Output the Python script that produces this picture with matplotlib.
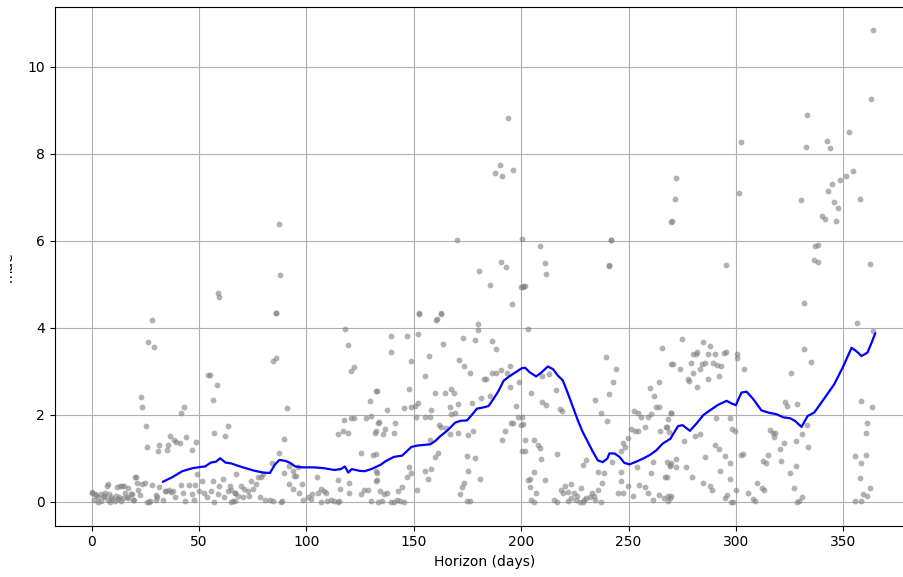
import matplotlib
matplotlib.use('Agg')
import matplotlib.pyplot as plt
from matplotlib.transforms import Bbox, TransformedBbox

# cross-validation points (horizon in days, mae)
pts_early = [
    (28, 4.18), (26.4, 3.68), (28.8, 3.56), (23, 2.40), (23.6, 2.18), (25.2, 1.74), (25.8, 1.26),
    (31.4, 1.30), (30.8, 1.16), (35.5, 1.30), (35, 1.20), (36.6, 1.52), (38.4, 1.42), (39.3, 1.37),
    (41.2, 1.34), (41.8, 2.03), (43.1, 2.18), (44, 1.49), (46.9, 1.20), (48.4, 1.37),
    (54, 2.92), (54.9, 2.92), (58.3, 2.69), (56.3, 2.35), (56.9, 1.59), (62.3, 1.52), (63.5, 1.74),
    (58.8, 4.79), (59.3, 4.70),
    (20, 0.57), (7.7, 0.40), (13, 0.35), (15, 0.35), (16.7, 0.31), (20.9, 0.42), (24.8, 0.42),
    (28, 0.39), (31.4, 0.33), (0, 0.21), (1.3, 0.18), (2.8, 0.10), (4.4, 0.02), (6, 0.21),
    (7.5, 0.04), (9.1, 0.10), (10.7, 0.02), (12.3, 0.06), (13.8, 0.02), (15.4, 0.19), (17, 0.08),
    (18.6, 0.18), (22.5, 0.16), (25.6, 0.0), (27.2, 0.02), (29.9, 0.04), (30.3, 0.10), (34.3, 0.25),
    (35.8, 0.27), (37.7, 0.25), (39, 0.11), (41.4, 0.39), (42.5, 0.21), (43.6, 0.02), (45.3, 0.39),
    (46.5, 0.18), (48.1, 0.38), (49.2, 0.64), (50, 0.25), (51.5, 0.48), (52.4, 0.21), (53.9, 0.10),
    (55.5, 0.25), (56.3, 0.48), (57, 0.0), (58.6, 0.18), (59.4, 0.36), (61, 0.53), (61.8, 0.10),
    (63.4, 0.25), (64.5, 0.36), (65.7, 0.02), (66.5, 0.21), (1, 0.05), (3, 0.0), (5.5, 0.12),
    (8.5, 0.0), (11.5, 0.14), (14.5, 0.08), (19, 0.03), (21.5, 0.28), (33, 0.05), (47.5, 0.05),
    (0.2, 0.23), (1.8, 0.15), (4.1, 0.18), (5.7, 0.10), (7.2, 0.37), (8, 0.18), (9.6, 0.06),
    (11.9, 0.33), (12.7, 0.10), (14.2, 0.35), (16.6, 0.10), (18.1, 0.18), (19.7, 0.03),
    (20.5, 0.56), (23.5, 0.41), (26.7, 0.0), (29.8, 0.15), (34.4, 0.25), (36.8, 0.23),
]
pts_mid1 = [
    (87, 6.39), (87.5, 5.21), (85.9, 4.34), (85.8, 4.33), (84.3, 3.24), (85.8, 3.30),
    (117.9, 3.97), (119.2, 3.60), (120.8, 3.01), (122, 3.09), (90.9, 2.15), (133, 2.54), (129.4, 2.32),
    (117.6, 1.89), (120.8, 1.92), (122.3, 1.92), (127.8, 1.92), (129.9, 1.96), (114.8, 1.56),
    (116.8, 1.62), (119.2, 1.59), (132, 1.59), (89.6, 1.45), (87, 1.11), (83.8, 0.89),
    (125.2, 1.11), (131, 1.08),
    (67.3, 0.64), (64.9, 0.28), (66.5, 0.21), (68, 0.14), (69.6, 0.37), (71.1, 0.29), (72.7, 0.25),
    (74.2, 0.48), (75, 0.29), (76.7, 0.41), (77.5, 0.56), (79, 0.56), (79.9, 0.64), (78.2, 0.10),
    (80.5, 0.05), (82.9, 0.04), (84.4, 0.02), (88.5, 0.02), (88, 0.0), (64.9, 0.0), (66.5, 0.02),
    (70.3, 0.10), (73.4, 0.14), (89.7, 0.67), (92, 0.83), (93.6, 0.71), (94.3, 0.60), (95.1, 0.60),
    (95.9, 0.79), (91.7, 0.41), (93.6, 0.29), (96.7, 0.21), (98, 0.41), (98.6, 0.04), (100.6, 0.10),
    (101.9, 0.06), (102.7, 0.18), (104.7, 0.56), (105.3, 0.21), (106.6, 0.29), (108.2, 0.25),
    (109, 0.21), (106.9, 0.0), (109.7, 0.02), (111.3, 0.04), (112.9, 0.01), (114.5, 0.0),
    (115.3, 0.02), (114.8, 0.50), (115.7, 0.29), (120, 0.42), (120, 0.21), (125.2, 0.18),
    (126.7, 0.27), (128.6, 0.27), (130.2, 0.02), (133, 0.67), (132.5, 0.48), (133.3, 0.0),
]
pts_mid2 = [
    (180.6, 5.30), (185.6, 4.98), (195.7, 4.54), (199.8, 4.94), (201, 4.94), (152.5, 4.32),
    (160.5, 4.17), (162.8, 4.32), (179.7, 4.08), (179.8, 3.96), (139.6, 3.82), (146.9, 3.82),
    (152, 3.86), (139.2, 3.45), (148.5, 3.24), (157, 3.34), (163.6, 3.63), (172.7, 3.77),
    (178.3, 3.73), (186.4, 3.70), (188.2, 3.52), (171.2, 3.27), (173.2, 3.12), (176.3, 2.95),
    (155.4, 2.90), (182.5, 2.83), (183.8, 2.83), (186.4, 2.97), (188.2, 2.95), (190.7, 3.02),
    (193.3, 2.97), (194.9, 3.13), (198.8, 2.76), (132.2, 2.55), (147.7, 2.59), (159.8, 2.50),
    (164.7, 2.50), (167.5, 2.59), (168.6, 2.50), (181.5, 2.39), (185.6, 2.43), (194.9, 2.64),
    (152, 2.28), (170.4, 2.24), (177.2, 2.27), (137.6, 2.10), (145.4, 2.15), (148.9, 2.17),
    (150.5, 2.20), (158.2, 2.10), (167, 2.18), (169, 2.05), (197.5, 2.20), (198.4, 1.95),
    (133.2, 1.82), (134, 1.84), (141.3, 1.81), (132.2, 1.63), (135.6, 1.55), (136.8, 1.67),
    (140.7, 1.59), (150.8, 1.94), (155.1, 1.94), (157.7, 1.95), (167.5, 2.01), (161.6, 1.77),
    (162.7, 1.72), (165.1, 1.70), (166.8, 1.55), (170.4, 1.58), (175.3, 1.54), (177.6, 1.63),
    (195.5, 1.80), (196.3, 1.82), (192.3, 1.62), (191, 1.42), (200.3, 1.94), (199.8, 1.77),
    (200.3, 1.16), (160, 1.02), (161.3, 1.13), (157.4, 1.42), (132.2, 1.09), (147.7, 0.79),
    (148.7, 0.67), (146.9, 0.56), (155.4, 0.71), (158, 0.75), (156.8, 0.52), (151.3, 0.28),
    (174.7, 1.04), (178.3, 1.00), (175.3, 0.71), (181, 0.52), (173.2, 0.43), (172.4, 0.34),
    (171.3, 0.18), (174.7, 0.02), (176.3, 0.02), (133, 0.50), (134.1, 0.24), (136.1, 0.18),
    (137.6, 0.21), (139.2, 0.0), (140.7, 0.0), (142.3, 0.04), (142.8, 0.25), (143.4, 0.02),
    (144.6, 0.34), (145.4, 0.0), (135.3, 0.02), (132.2, 0.71),
    (193.9, 8.82), (190.1, 7.75), (188, 7.55), (191.2, 7.49), (196.3, 7.63), (170, 6.01),
    (190.7, 5.51), (192.8, 5.40), (152.5, 4.34), (162.7, 4.34), (160.6, 4.20),
]
pts_mid3 = [
    (200.6, 6.05), (208.9, 5.89), (210.9, 5.50), (211.6, 5.24), (200.8, 4.95), (201.9, 4.95),
    (203.1, 3.97), (241.9, 6.01), (241.1, 5.42), (269.6, 6.44), (265.5, 3.53), (269.6, 3.17),
    (239.6, 3.32), (244, 3.05), (242.7, 2.76), (241.1, 2.48), (234.6, 2.33), (237, 2.05),
    (239.8, 1.85), (204.7, 2.50), (209.8, 2.88), (213.2, 2.94), (209.6, 2.29), (211.6, 2.23),
    (216, 2.57), (218.3, 2.14), (219.2, 2.08), (200.8, 1.79), (201.6, 1.43), (201.9, 1.17),
    (205.9, 1.43), (207.8, 1.30), (208.6, 1.24), (209.1, 0.99), (216.8, 1.09), (206.1, 0.69),
    (211.1, 0.51), (204.3, 0.53), (203.4, 0.51), (203.9, 0.34), (207, 0.19), (206.1, 0.0),
    (204.6, 0.05), (228.7, 0.84), (230.3, 0.97), (236, 0.69), (238.5, 0.65), (237.6, 0.44),
    (236, 0.28), (227.9, 0.31), (223.3, 0.40), (220.2, 0.36), (218.4, 0.28), (219.5, 0.19),
    (221.8, 0.23), (223, 0.08), (224.5, 0.19), (225.6, 0.04), (227.2, 0.0), (228.7, 0.0),
    (230.3, 0.08), (231.9, 0.11), (232.9, 0.19), (233.9, 0.13), (215.2, 0.04), (216.8, 0.0),
    (237.3, 0.0), (226, 0.12), (229.5, 0.05), (222, 0.02), (234.5, 0.03),
    (242.5, 0.92), (246.6, 0.69), (246.3, 0.47), (245, 0.19), (247.4, 0.19), (249.7, 0.36),
    (252, 0.13), (255.1, 0.38), (257.8, 0.33), (259, 0.19), (261.3, 0.05), (264, 0.15),
    (266.5, 0.08), (268.6, 0.13), (269.9, 0.13), (246.6, 1.17), (247.4, 1.34), (248.5, 1.26),
    (249.7, 1.47), (251, 1.68), (252.8, 1.63), (254.3, 1.63), (252.5, 2.08), (254.3, 2.04),
    (255.9, 1.95), (257.8, 1.72), (259, 1.95), (260.6, 2.01), (262.9, 2.18), (264, 2.18),
    (261.8, 2.44), (259.8, 2.62), (264, 2.76), (264.9, 1.63), (267.6, 1.72), (268.3, 1.91),
    (269.6, 2.04), (268, 0.92), (266.8, 0.57), (261.3, 0.92), (260.7, 0.65), (254, 0.80),
    (269.1, 0.84),
]
pts_late = [
    (331.7, 4.58), (275, 3.75), (284.5, 3.67), (287.9, 3.57), (280.1, 3.39), (282, 3.44),
    (281.4, 3.40), (287, 3.40), (290.1, 3.40), (294.4, 3.43), (295.3, 3.45), (300.6, 3.40),
    (300.6, 3.31), (270.5, 3.16), (274.2, 3.05), (279.3, 3.20), (284, 3.16), (283.2, 3.05),
    (285.5, 3.20), (289.4, 3.20), (291, 3.14), (292.9, 3.12), (292.2, 2.89), (287.1, 2.83),
    (280.1, 2.95), (277.8, 2.83), (278.3, 2.78), (281.9, 2.64), (303.7, 3.05), (331.7, 3.52),
    (335.2, 3.22), (325.9, 2.95), (322.8, 2.30), (323.6, 2.20), (328.6, 2.24),
    (270, 2.03), (290.7, 1.92), (297.3, 1.92), (298.3, 1.67), (299.8, 1.63), (267.7, 1.71),
    (268.9, 1.61), (275.9, 1.40), (281, 1.51), (283.2, 1.55), (290.3, 1.31), (292.2, 1.22),
    (294.9, 1.04), (297.2, 0.89), (292.8, 0.71), (302.6, 1.08), (303.1, 1.09), (285.4, 1.02),
    (277, 0.79), (272.3, 0.98), (270, 0.90), (269.5, 0.83), (272, 0.79), (267.7, 0.57),
    (279.4, 0.57), (284.8, 0.42), (287.9, 0.37), (288.7, 0.27), (297.2, 0.52), (300, 0.27),
    (295.9, 0.16), (294.8, 0.08), (297.8, 0.0), (298.8, 0.0), (305.7, 0.19), (307.8, 0.06),
    (308.9, 0.02), (310, 0.42), (312, 0.31), (313.1, 0.27), (312.8, 0.93), (314, 0.90),
    (315.1, 1.08), (315.9, 1.65), (317.1, 1.57), (317.7, 1.48), (318.2, 1.59), (320.5, 1.21),
    (322.4, 1.36), (320.8, 0.94), (325.2, 0.67), (328, 0.83), (328, 1.40), (330.6, 1.55),
    (333.7, 1.26), (326.9, 0.31), (328.4, 0.0), (329.4, 0.02), (330.6, 0.10), (269.3, 0.08),
    (268.5, 0.02), (333, 1.77),
    (356.4, 4.10), (364.1, 3.93), (358.5, 2.32), (363.4, 2.17), (361.3, 1.80), (360.7, 1.59),
    (360.5, 1.08), (355.6, 1.05), (358.5, 0.90), (357.8, 0.54), (362.6, 0.31), (359.2, 0.18),
    (361.1, 0.14), (355.6, 0.02), (358.3, 0.02),
    (363.9, 10.84), (363.1, 9.26), (333, 8.90), (332.5, 8.17), (330.4, 6.94), (352.9, 8.50),
    (342.4, 8.29), (343.8, 8.13), (342.7, 7.15), (344.9, 7.30), (348.6, 7.39), (351.3, 7.49),
    (354.5, 7.60), (357.7, 6.96), (345.6, 6.89), (347.5, 6.75), (346.5, 6.45), (340.3, 6.58),
    (341.6, 6.50), (336.8, 5.88), (338.4, 5.90), (336.2, 5.57), (338.1, 5.52), (362.6, 5.47),
    (302.4, 8.28), (301.6, 7.11), (272.3, 7.44), (271.8, 6.96), (270.2, 6.45), (295.4, 5.44),
    (242, 6.01), (240.9, 5.44),
]

# rolling mae line
line_days = [33.2, 37.4, 42.1, 46.9, 50.8, 52.8, 55.5, 57.9, 59.8, 62.3, 65, 67.3, 70.4, 75.9,
             79.9, 83, 85.4, 87.4, 90.1, 92.5, 94.8, 98, 103.5, 108.2, 112.9, 116, 117.9, 119.5,
             121.1, 124.7, 127, 130.2, 134.6, 136.8, 140.7, 144.6, 148.9, 151.5, 155.4, 157.7,
             160.1, 162.4, 165.5, 169.3, 171.7, 174.8, 177.1, 179.4, 182.5, 184.8, 187.2, 189.5,
             191.8, 194.1, 197.2, 200.3, 201.9, 203.9, 207, 209.6, 212.4, 214.8, 217.1, 219.4,
             221.7, 224.1, 226.4, 228.7, 231.1, 233.4, 235.7, 238, 240.1, 241.1, 243.5, 245.8,
             248.1, 250.5, 253.6, 256.7, 259.8, 262.9, 266, 269.6, 270, 273.1, 275.2, 278.6,
             281.7, 284.8, 287.9, 291.8, 295.7, 298, 300, 302.6, 305, 308.1, 311.9, 315.1, 319,
             322.1, 325.2, 327.5, 330.6, 333.4, 336.5, 340.4, 345.8, 349.7, 353.9, 356.4, 358.5,
             361.3, 362.9, 364.9]
line_mae = [0.46, 0.56, 0.70, 0.77, 0.80, 0.81, 0.90, 0.92, 1.00, 0.90, 0.88, 0.84, 0.79, 0.71,
            0.67, 0.66, 0.86, 0.96, 0.94, 0.89, 0.81, 0.79, 0.79, 0.77, 0.73, 0.75, 0.81, 0.67,
            0.75, 0.71, 0.70, 0.75, 0.85, 0.93, 1.03, 1.06, 1.26, 1.29, 1.31, 1.32, 1.40, 1.51,
            1.63, 1.82, 1.86, 1.87, 2.00, 2.14, 2.17, 2.20, 2.37, 2.55, 2.78, 2.87, 2.97, 3.07,
            3.08, 2.98, 2.88, 2.98, 3.11, 3.05, 2.90, 2.79, 2.50, 2.18, 1.87, 1.60, 1.37, 1.15,
            0.95, 0.91, 0.99, 1.11, 1.11, 1.03, 0.89, 0.86, 0.92, 0.99, 1.07, 1.18, 1.34, 1.45,
            1.49, 1.74, 1.76, 1.63, 1.80, 1.99, 2.10, 2.23, 2.32, 2.26, 2.22, 2.51, 2.53, 2.36,
            2.10, 2.05, 2.01, 1.94, 1.92, 1.86, 1.72, 1.97, 2.05, 2.32, 2.70, 3.08, 3.54, 3.45,
            3.35, 3.43, 3.62, 3.87]

all_pts = pts_early + pts_mid1 + pts_mid2 + pts_mid3 + pts_late
x_pts = [p[0] for p in all_pts]
y_pts = [p[1] for p in all_pts]

fig = plt.figure(figsize=(9.04, 5.77), dpi=100)
ax = fig.add_axes([54.8 / 904, 51.4 / 577, 859.7 / 904, 518.2 / 577])

ax.plot(x_pts, y_pts, 'o', color='gray', alpha=0.6, markersize=4.2, markeredgewidth=0)
ax.plot(line_days, line_mae, '-', color='b', linewidth=1.6)

ax.grid(True)
ax.set_xlim(-17.2, 383.2)
ax.set_ylim(-0.55, 11.37)
ax.set_xlabel('Horizon (days)', fontsize=10)
ax.tick_params(labelsize=10)

# y label is partly cut off in the reference
lab = ax.set_ylabel('mae', fontsize=10)
ax.yaxis.set_label_coords(-0.0463, 0.5)
lab.set_clip_box(TransformedBbox(Bbox([[10 / 904, 0], [60 / 904, 1]]), fig.transFigure))
lab.set_clip_on(True)

fig.savefig('out.png', dpi=100)
